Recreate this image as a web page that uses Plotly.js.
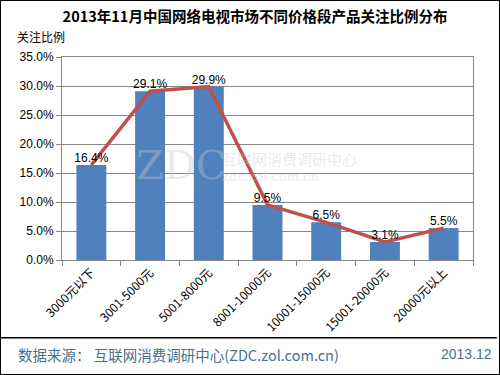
<!DOCTYPE html>
<html><head><meta charset="utf-8">
<script src="https://cdn.plot.ly/plotly-3.0.1.min.js"></script>
<style>html,body{margin:0;padding:0;background:#fff;}#c{width:500px;height:375px;}</style>
</head><body><div id="c"></div>
<script>
var categories = ["3000元以下","3001-5000元","5001-8000元","8001-10000元","10001-15000元","15001-20000元","20000元以上"];
var values = [16.4, 29.1, 29.9, 9.5, 6.5, 3.1, 5.5];
var yTicks = [0,5,10,15,20,25,30,35];
var yTickText = yTicks.map(function(v){return v.toFixed(1)+"%";});
var labels = values.map(function(v){return v.toFixed(1)+"%";});

var font = "Liberation Sans, Noto Sans CJK SC, sans-serif";
var cjk = "Noto Sans CJK SC, sans-serif";

var data = [
  {type:"bar", x:categories, y:values, marker:{color:"#4f81bd"}, width:0.51, hoverinfo:"none"},
  {type:"scatter", mode:"lines+text", x:categories, y:values, text:labels, textposition:"top center",
   textfont:{family:font, size:12, color:"#000"}, line:{color:"#c0504d", width:3.5}, cliponaxis:false, hoverinfo:"none"}
];

var layout = {
  width:500, height:375, showlegend:false,
  paper_bgcolor:"#fff", plot_bgcolor:"#fff",
  margin:{l:62, r:27, t:57, b:115},
  title:{text:"<b>2013年11月中国网络电视市场不同价格段产品关注比例分布</b>", font:{family:cjk, size:14.5, color:"#000"}, x:0.51, xanchor:"center", y:0.955, yanchor:"middle"},
  xaxis:{type:"category", tickson:"boundaries", ticks:"outside", ticklen:5, tickcolor:"#868686",
    tickangle:-45, tickfont:{family:cjk, size:12, color:"#000"}, showline:true, linecolor:"#868686", mirror:true, showgrid:false, fixedrange:true},
  yaxis:{range:[0,35], tickvals:yTicks, ticktext:yTickText, ticks:"outside", ticklen:5, tickcolor:"#868686",
    tickfont:{family:font, size:12, color:"#000"}, gridcolor:"#868686", gridwidth:1, showline:true, linecolor:"#868686", mirror:true, zeroline:false, fixedrange:true},
  shapes:[
    {type:"line", xref:"paper", yref:"paper", x0:-0.151, x1:1.058, y0:-0.3825, y1:-0.3825, line:{color:"#000", width:1.5}}
  ],
  annotations:[
    {text:"关注比例", xref:"paper", yref:"paper", x:-0.115, y:1.1, xanchor:"left", yanchor:"middle", showarrow:false, font:{family:cjk, size:12, color:"#000"}},
    {text:"ZDC", xref:"paper", yref:"paper", x:0.175, y:0.47, xanchor:"left", yanchor:"middle", showarrow:false, font:{family:"DejaVu Serif, serif", size:40, color:"rgba(200,200,210,0.4)"}},
    {text:"互联网消费调研中心", xref:"paper", yref:"paper", x:0.385, y:0.5, xanchor:"left", yanchor:"middle", showarrow:false, font:{family:cjk, size:15, color:"rgba(200,200,210,0.4)"}},
    {text:"zdc.zol.com.cn", xref:"paper", yref:"paper", x:0.385, y:0.41, xanchor:"left", yanchor:"middle", showarrow:false, font:{family:"DejaVu Serif, serif", size:13, color:"rgba(200,200,210,0.4)"}},
    {text:"数据来源： 互联网消费调研中心(ZDC.zol.com.cn)", xref:"paper", yref:"paper", x:-0.112, y:-0.465, xanchor:"left", yanchor:"middle", showarrow:false, font:{family:cjk, size:14.5, color:"#4a6f8a"}},
    {text:"2013.12", xref:"paper", yref:"paper", x:1.05, y:-0.465, xanchor:"right", yanchor:"middle", showarrow:false, font:{family:font, size:14, color:"#4a6f8a"}}
  ]
};
Plotly.newPlot("c", data, layout, {displayModeBar:false, staticPlot:true});
</script>
<div style="position:absolute;left:0;top:0;width:498px;height:373px;border:1px solid #000;pointer-events:none;"></div>
</body></html>
